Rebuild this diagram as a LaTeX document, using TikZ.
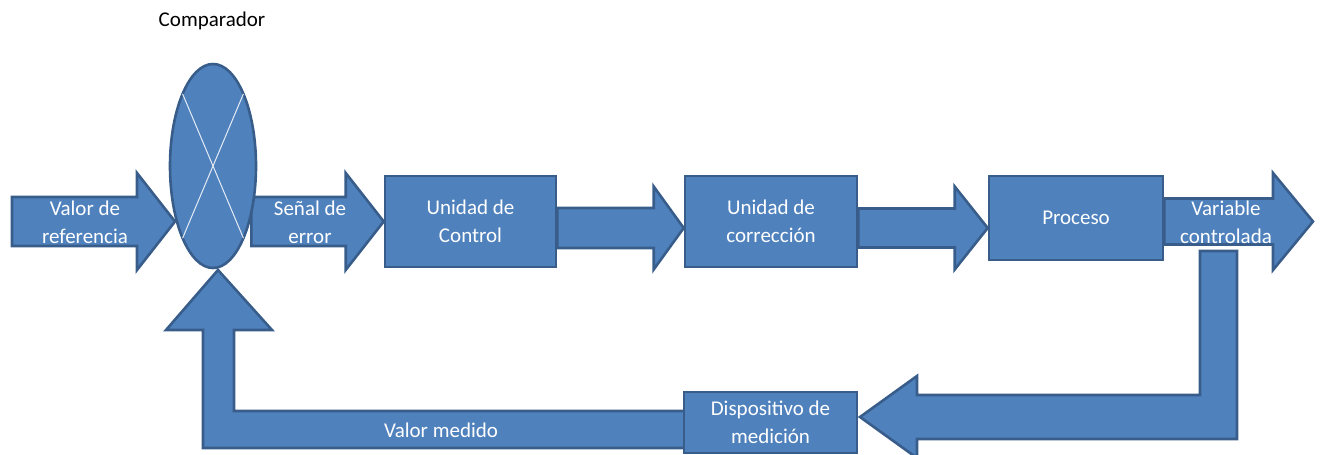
\documentclass[tikz,border=0pt]{standalone}
\usepackage{fontspec}
\setmainfont{Carlito}
\usetikzlibrary{shapes.geometric,calc}

\definecolor{blockfill}{HTML}{4F81BD}
\definecolor{blockline}{HTML}{385D8A}

\pgfdeclarelayer{arrows}
\pgfsetlayers{arrows,main}

\tikzset{
  blockarrow/.style={draw=blockline, fill=blockfill, line width=2.6pt, line join=miter},
  stepbox/.style={draw=blockline, fill=blockfill, line width=2.6pt, rectangle,
    inner sep=0pt, text=white, align=center, font=\fontsize{21}{28}\selectfont},
  lbl/.style={text=white, align=center, inner sep=0pt, font=\fontsize{21}{28}\selectfont},
}

% Right-pointing block arrow: #1 start, #2 tip, #3 half shaft, #4 half head, #5 head length
\newcommand\blockright[5]{%
  \draw[blockarrow] let \p1=(#1), \p2=(#2) in
    (\x1,\y2+#3pt) -- (\x2-#5pt,\y2+#3pt) -- (\x2-#5pt,\y2+#4pt) -- (\p2)
    -- (\x2-#5pt,\y2-#4pt) -- (\x2-#5pt,\y2-#3pt) -- (\x1,\y2-#3pt) -- cycle;}

\begin{document}
\begin{tikzpicture}[x=1pt, y=-1pt]
  \useasboundingbox (0,0) rectangle (1320,455);

  % blocks
  \node[stepbox, minimum width=171pt, minimum height=91pt] (ctrl) at (470.5,221.5) {Unidad de\\Control};
  \node[stepbox, minimum width=172pt, minimum height=91pt] (corr) at (771,221.5) {Unidad de\\corrección};
  \node[stepbox, minimum width=174pt, minimum height=84pt] (proc) at (1076,218) {Proceso};
  \node[stepbox, minimum width=173pt, minimum height=61pt] (disp) at (770.5,422.5) {Dispositivo de\\medición};

  % comparator
  \node[ellipse, draw=blockline, fill=blockfill, line width=2.6pt,
        minimum width=86pt, minimum height=204pt, inner sep=0pt] (comp) at (213,166) {};
  \draw[white!85!blockfill, line width=1pt]
    ($(comp.center)+(30.4,-72.1)$) -- ($(comp.center)+(-30.4,72.1)$)
    ($(comp.center)+(-30.4,-72.1)$) -- ($(comp.center)+(30.4,72.1)$);

  % free ends of the forward path
  \coordinate (refin) at (12,221.5);
  \coordinate (reftip) at (175,221.5);
  \coordinate (outtip) at (1313,221.5);
  \coordinate (fbtip) at (218,270);
  \coordinate (disptip) at (860,417);

  % block arrows, kept beneath the blocks
  \begin{pgfonlayer}{arrows}
    \blockright{refin}{reftip}{24.5}{48.5}{38}
    \blockright{$(comp.east)+(-6,0)$}{ctrl.west}{24.5}{48.5}{38}
    \blockright{ctrl.east}{$(corr.west)+(0,6.5)$}{20}{41.5}{30}
    \blockright{corr.east}{$(proc.west)+(0,10)$}{19.5}{41.5}{33}
    \blockright{proc.east}{outtip}{23}{48.5}{40}

    % feedback from the output down to the measuring device
    \draw[blockarrow] (1200,251) -- (1237,251) -- (1237,439) -- (917,439) -- (917,458)
      -- (disptip) -- (917,376) -- (917,395) -- (1200,395) -- cycle;
    % measured value back up to the comparator
    \draw[blockarrow] (disp.center |- 0,411) -- (234,411) -- (234,330) -- (272,330)
      -- (fbtip) -- (166,330) -- (203,330) -- (203,448) -- (disp.center |- 0,448) -- cycle;
  \end{pgfonlayer}

  % labels
  \node[font=\fontsize{21}{28}\selectfont, text=black, inner sep=0pt] (comptxt) at (212,21) {Comparador};
  \node[lbl] (reflbl) at (85,222) {Valor de\\referencia};
  \node[lbl] (errlbl) at (310,222) {Señal de\\error};
  \node[lbl] (outlbl) at (1226,222) {Variable\\controlada};
  \node[lbl] (medlbl) at (441,430) {Valor medido};
\end{tikzpicture}
\end{document}
